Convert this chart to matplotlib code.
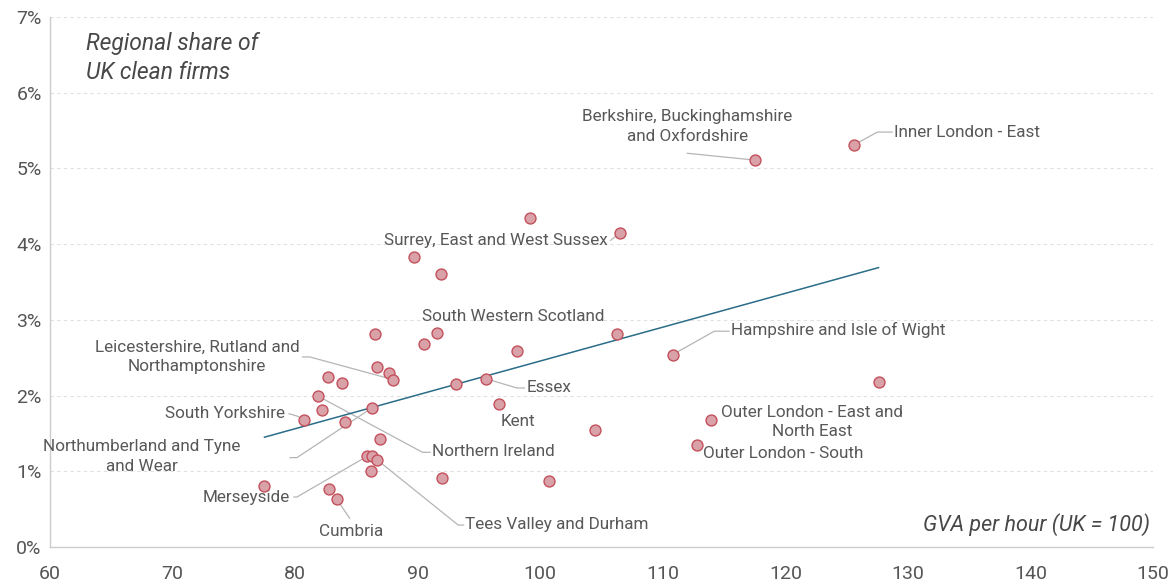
import numpy as np
import matplotlib.pyplot as plt
from matplotlib.ticker import FuncFormatter

plt.rcParams['font.family'] = ['Roboto', 'DejaVu Sans']

# GVA per hour (UK = 100) and share of UK clean firms (%) by region
gva = [125.6, 117.5, 99.2, 106.5, 89.7, 91.9, 86.5, 91.6, 90.5, 98.1,
       106.3, 110.8, 127.6, 86.7, 87.7, 88.0, 82.7, 83.8, 93.1, 95.6,
       81.9, 82.2, 80.7, 84.1, 86.3, 96.6, 104.5, 113.9, 112.8, 86.9,
       85.9, 86.3, 86.7, 86.2, 92.0, 100.7, 77.5, 82.8, 83.4]
share = [5.31, 5.11, 4.35, 4.15, 3.83, 3.61, 2.81, 2.83, 2.68, 2.59,
         2.81, 2.54, 2.18, 2.38, 2.30, 2.21, 2.25, 2.17, 2.15, 2.22,
         1.99, 1.81, 1.68, 1.65, 1.84, 1.89, 1.55, 1.68, 1.35, 1.43,
         1.20, 1.20, 1.15, 1.00, 0.91, 0.87, 0.81, 0.77, 0.63]

# linear trend across the range of the data
trend_x = [77.5, 127.6]
trend_y = [1.45, 3.69]

# label, index of point, text position, alignment, leader bends
labels = [
    ("Inner London - East", 0, (128.9, 5.48), 'left', [(127.5, 5.48), (128.7, 5.48)]),
    ("Berkshire, Buckinghamshire\nand Oxfordshire", 1, (112.0, 5.55), 'center', [(112.0, 5.20)]),
    ("Surrey, East and West Sussex", 3, (105.5, 4.05), 'right', [(105.75, 4.05)]),
    ("South Western Scotland", 7, (97.8, 3.04), 'center', []),
    ("Hampshire and Isle of Wight", 11, (115.55, 2.87), 'left', [(114.2, 2.85), (115.4, 2.85)]),
    ("Leicestershire, Rutland and\nNorthamptonshire", 15, (72.0, 2.51), 'center', [(81.2, 2.51), (80.6, 2.51)]),
    ("Essex", 19, (98.9, 2.10), 'left', [(98.1, 2.10), (98.7, 2.10)]),
    ("Kent", 25, (98.2, 1.66), 'center', []),
    ("South Yorkshire", 22, (79.15, 1.76), 'right', [(80.15, 1.73), (79.5, 1.76)]),
    ("Northern Ireland", 20, (91.15, 1.26), 'left', [(90.4, 1.25), (91.0, 1.25)]),
    ("Northumberland and Tyne\nand Wear", 24, (67.5, 1.19), 'center', [(80.15, 1.18), (79.6, 1.18)]),
    ("Merseyside", 30, (79.55, 0.66), 'right', [(80.15, 0.66), (79.9, 0.66)]),
    ("Cumbria", 38, (84.6, 0.21), 'center', [(84.45, 0.38)]),
    ("Tees Valley and Durham", 32, (93.9, 0.30), 'left', [(93.3, 0.29), (93.75, 0.29)]),
    ("Outer London - East and\nNorth East", 27, (122.2, 1.65), 'center', []),
    ("Outer London - South", 28, (113.25, 1.23), 'left', []),
]

fig = plt.figure(figsize=(11.73, 5.84), dpi=100)
ax = fig.add_axes([0.0426, 0.0634, 0.9404, 0.9075])

ax.set_xlim(60, 150)
ax.set_ylim(0, 7)
ax.set_xticks(range(60, 151, 10))
ax.set_yticks(range(0, 8))
ax.yaxis.set_major_formatter(FuncFormatter(lambda v, p: f"{int(v)}%"))
ax.tick_params(length=0, labelsize=14, labelcolor='#555555')
ax.tick_params(axis='x', pad=13)
ax.tick_params(axis='y', pad=6)

for s in ['top', 'right']:
    ax.spines[s].set_visible(False)
for s in ['left', 'bottom']:
    ax.spines[s].set_color('#cccccc')
    ax.spines[s].set_linewidth(1)

for v in range(1, 8):
    ax.axhline(v, color='#e0e0e0', lw=0.8, ls=(0, (3, 3)), zorder=0)

ax.plot(trend_x, trend_y, color='#2b6d88', lw=1.1, zorder=2)

for text, i, (tx, ty), ha, bends in labels:
    if bends:
        px = [gva[i]] + [b[0] for b in bends]
        py = [share[i]] + [b[1] for b in bends]
        ax.plot(px, py, color='#b5b5b5', lw=0.9, zorder=1)
    ax.text(tx, ty, text, ha=ha, va='center', fontsize=12.3, color='#585858',
            linespacing=1.4, multialignment='center')

ax.scatter(gva, share, s=62, facecolor='#d9a1a8', edgecolor='#c4505c',
           linewidth=1, zorder=3)

ax.text(0.0326, 0.972, "Regional share of\nUK clean firms", transform=ax.transAxes,
        ha='left', va='top', fontsize=16.5, style='italic', color='#484848',
        linespacing=1.35)
ax.text(0.997, 0.0415, "GVA per hour (UK = 100)", transform=ax.transAxes,
        ha='right', va='center', fontsize=15.5, style='italic', color='#484848')

fig.savefig('out.png', dpi=100)
